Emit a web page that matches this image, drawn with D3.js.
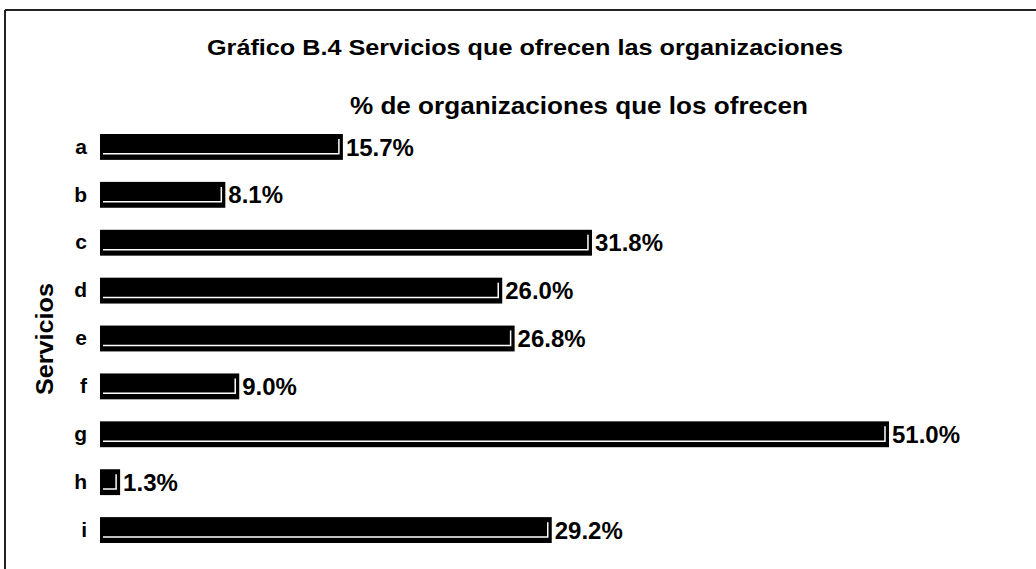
<!DOCTYPE html>
<html>
<head>
<meta charset="utf-8">
<script src="https://cdn.jsdelivr.net/npm/d3@7"></script>
<style>
  body { margin: 0; background: #fff; }
  text { font-family: "Liberation Sans", Arial, sans-serif; font-weight: bold; fill: #000; }
</style>
</head>
<body>
<div id="viz"></div>
<script>
const categories = ['a', 'b', 'c', 'd', 'e', 'f', 'g', 'h', 'i'];
const values = [15.7, 8.1, 31.8, 26.0, 26.8, 9.0, 51.0, 1.3, 29.2];
const chartTitle = 'Gráfico B.4 Servicios que ofrecen las organizaciones';
const chartSubtitle = '% de organizaciones que los ofrecen';
const yAxisTitle = 'Servicios';

function buildChart(containerId) {
    const width = 1036;
    const height = 569;

    const svg = d3.select(containerId)
                    .append('svg')
                    .attr('width', width)
                    .attr('height', height);

    // frame of the scanned page
    svg.append('line')
       .attr('x1', 5).attr('y1', 10).attr('x2', width).attr('y2', 10)
       .attr('stroke', '#222').attr('stroke-width', 2);
    svg.append('line')
       .attr('x1', 5).attr('y1', 10).attr('x2', 5).attr('y2', height)
       .attr('stroke', '#222').attr('stroke-width', 2);

    const x = d3.scaleLinear()
                .domain([0, 51])
                .range([100, 889]);

    const y = d3.scaleBand()
                .domain(categories)
                .range([123, 554])
                .paddingInner(0.46)
                .paddingOuter(0.23);

    const yAxis = d3.axisLeft(y).tickSize(0).tickPadding(0);

    const axisG = svg.append('g')
       .attr('class', 'y-axis')
       .attr('transform', 'translate(87,0)')
       .call(yAxis);
    axisG.select('.domain').remove();
    axisG.selectAll('text')
       .attr('font-size', 21)
       .attr('font-family', '"Liberation Sans", Arial, sans-serif')
       .attr('font-weight', 'bold')
       .attr('fill', '#000');

    const data = categories.map((c, i) => ({ cat: c, val: values[i] }));

    const bars = svg.selectAll('.bar')
       .data(data)
       .enter()
       .append('g')
       .attr('class', 'bar');

    bars.append('rect')
        .attr('x', x(0))
        .attr('y', d => y(d.cat))
        .attr('width', d => x(d.val) - x(0))
        .attr('height', y.bandwidth())
        .attr('fill', '#000');

    // white inner edge lines (the printed 3D look)
    bars.append('path')
        .attr('d', d => {
            const x0 = x(0) + 3;
            const x1 = x(d.val) - 4;
            const yb = y(d.cat) + y.bandwidth() - 6;
            const yt = y(d.cat) + 5;
            return 'M' + x0 + ',' + yb + 'H' + x1 + 'V' + yt;
        })
        .attr('fill', 'none')
        .attr('stroke', '#fff')
        .attr('stroke-width', 1.5);

    bars.append('text')
        .attr('x', d => x(d.val) + 3)
        .attr('y', d => y(d.cat) + y.bandwidth() / 2)
        .attr('dy', '0.36em')
        .attr('font-size', 24)
        .text(d => d.val.toFixed(1) + '%');

    svg.append('text')
       .attr('x', 525)
       .attr('y', 55)
       .attr('text-anchor', 'middle')
       .attr('font-size', 22)
       .attr('textLength', 636)
       .attr('lengthAdjust', 'spacingAndGlyphs')
       .text(chartTitle);

    svg.append('text')
       .attr('x', 579)
       .attr('y', 114)
       .attr('text-anchor', 'middle')
       .attr('font-size', 24)
       .attr('textLength', 458)
       .attr('lengthAdjust', 'spacingAndGlyphs')
       .text(chartSubtitle);

    svg.append('text')
       .attr('x', 0)
       .attr('y', 0)
       .attr('transform', 'translate(53,339) rotate(-90)')
       .attr('text-anchor', 'middle')
       .attr('font-size', 23)
       .attr('textLength', 112)
       .attr('lengthAdjust', 'spacingAndGlyphs')
       .text(yAxisTitle);
}

buildChart('#viz');
</script>
</body>
</html>
